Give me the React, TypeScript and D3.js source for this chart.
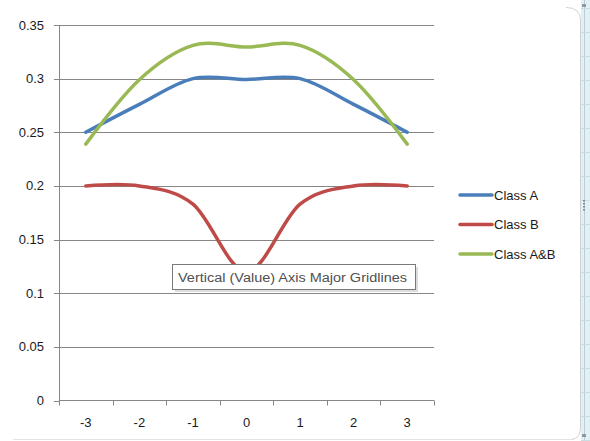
import React from "react";
import * as d3 from "d3";

const categories = ["-3", "-2", "-1", "0", "1", "2", "3"];
const classA = [0.25, 0.276, 0.3, 0.2992, 0.3, 0.276, 0.25];
const classB = [0.2, 0.2, 0.183, 0.12, 0.183, 0.2, 0.2];
const classAB = [0.239, 0.299, 0.331, 0.3295, 0.331, 0.299, 0.239];
const yTicks = [0, 0.05, 0.1, 0.15, 0.2, 0.25, 0.3, 0.35];

const series = [
  { name: "Class A", values: classA, color: "#4A7EBB" },
  { name: "Class B", values: classB, color: "#BE4B48" },
  { name: "Class A&B", values: classAB, color: "#98B954" },
];

const W = 590;
const H = 441;
const left = 59;
const right = 434;
const top = 25;
const bottom = 400.5;
const font = "'Liberation Sans', Arial, sans-serif";

export default function App() {
  const x = d3.scaleBand<string>().domain(categories).range([left, right]);
  const y = d3.scaleLinear().domain([0, 0.35]).range([bottom, top]);
  const cx = (c: string) => (x(c) as number) + x.bandwidth() / 2;
  const line = d3
    .line<number>()
    .x((_, i) => cx(categories[i]))
    .y((d) => y(d))
    .curve(d3.curveCardinal.tension(0));

  const boundaries = categories.map((c) => x(c) as number).concat([right]);

  return (
    <svg
      width={W}
      height={H}
      style={{ position: "absolute", left: 0, top: 0, background: "#fff" }}
    >
      {/* outer chart frame pieces */}
      <line x1={13} x2={572} y1={439.5} y2={439.5} stroke="#e4e4e4" />
      <path d="M566,7.5 Q580.5,7.5 580.5,20 L580.5,428 Q580.5,438 572,439.5" fill="none" stroke="#d0d0d0" />
      <rect x={581} y={0} width={9} height={H} fill="#e2f0f4" />
      <line x1={584.5} x2={584.5} y1={0} y2={H} stroke="#b9cfd6" />
      {d3.range(8, H, 24).map((v) => (
        <line key={v} x1={581} x2={590} y1={v + 0.5} y2={v + 0.5} stroke="#c9dde3" />
      ))}
      <rect x={582} y={4} width={4} height={3} fill="#8a9aa0" />
      <rect x={582} y={434} width={4} height={3} fill="#8a9aa0" />
      {[200, 203, 206, 209].map((v) => (
        <rect key={v} x={583} y={v} width={2} height={1.5} fill="#7d8c91" />
      ))}

      {/* gridlines */}
      {yTicks.map((t) =>
        t === 0 ? null : (
          <line key={t} x1={left} x2={right} y1={Math.round(y(t)) + 0.5} y2={Math.round(y(t)) + 0.5} stroke="#868686" strokeWidth={1} />
        )
      )}
      {/* axes */}
      <line x1={left + 0.5} x2={left + 0.5} y1={top} y2={bottom} stroke="#868686" />
      <line x1={left} x2={right} y1={bottom} y2={bottom} stroke="#868686" />
      {yTicks.map((t) => (
        <line key={"yt" + t} x1={left - 5} x2={left} y1={Math.round(y(t)) + 0.5} y2={Math.round(y(t)) + 0.5} stroke="#868686" />
      ))}
      {boundaries.map((b, i) => (
        <line key={"xt" + i} x1={Math.round(b) + 0.5} x2={Math.round(b) + 0.5} y1={bottom} y2={bottom + 5} stroke="#868686" />
      ))}
      {yTicks.map((t) => (
        <text key={"yl" + t} x={44} y={y(t) + 4.5} textAnchor="end" fontFamily={font} fontSize={13} fill="#1a1a1a">
          {String(t)}
        </text>
      ))}
      {categories.map((c) => (
        <text key={"xl" + c} x={cx(c)} y={426.5} textAnchor="middle" fontFamily={font} fontSize={13} fill="#1a1a1a">
          {c}
        </text>
      ))}

      {/* series */}
      {series.map((s) => (
        <path key={s.name} d={line(s.values) as string} fill="none" stroke={s.color} strokeWidth={3.5} strokeLinecap="round" strokeLinejoin="round" />
      ))}

      {/* legend */}
      {series.map((s, i) => (
        <g key={"lg" + s.name}>
          <line x1={460} x2={492} y1={195 + i * 29.5} y2={195 + i * 29.5} stroke={s.color} strokeWidth={3.5} strokeLinecap="round" />
          <text x={494} y={195 + i * 29.5 + 4.5} fontFamily={font} fontSize={13} fill="#1a1a1a">
            {s.name}
          </text>
        </g>
      ))}

      {/* tooltip */}
      <rect x={175} y={267} width={243} height={25} fill="#9a9a9a" opacity={0.35} />
      <rect x={172.5} y={264.5} width={243} height={25} fill="#fff" stroke="#7a7a7a" />
      <text x={178} y={281.5} fontFamily={font} fontSize={12.5} fill="#505050" textLength={229} lengthAdjust="spacingAndGlyphs">
        Vertical (Value) Axis Major Gridlines
      </text>
    </svg>
  );
}
